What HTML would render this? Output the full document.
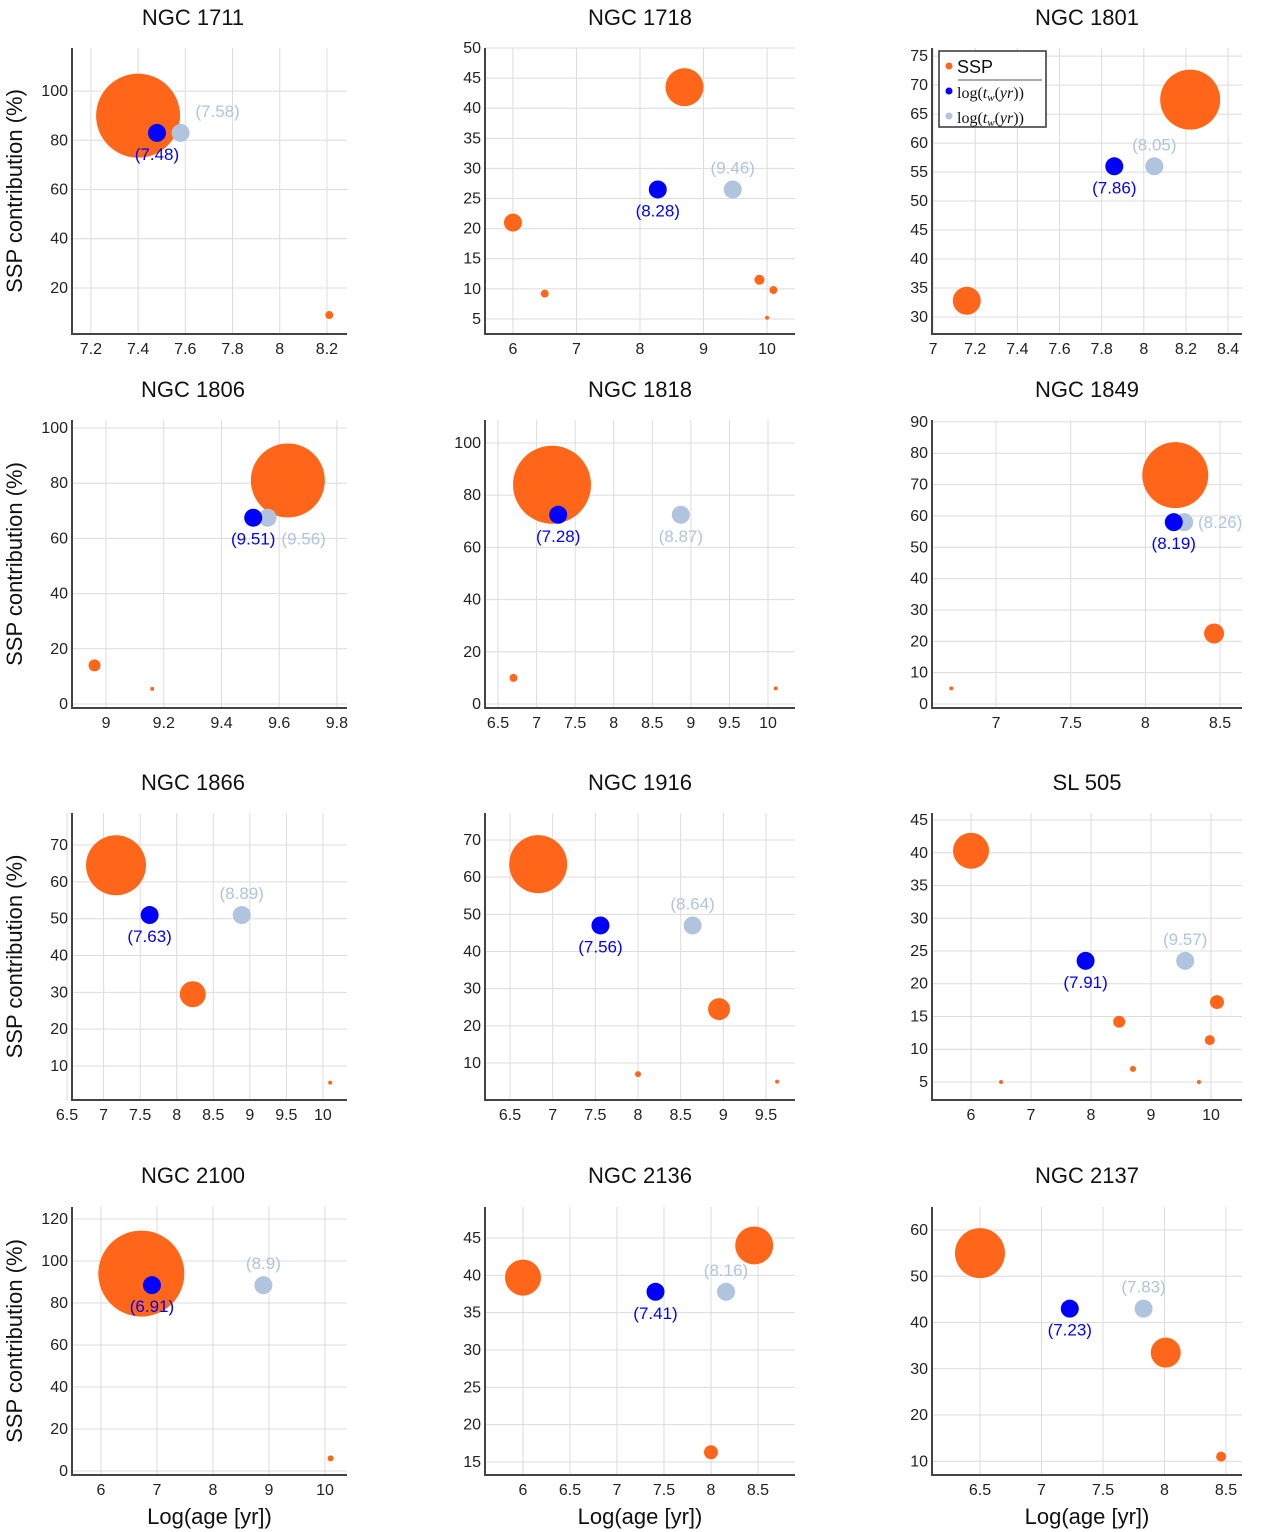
<!DOCTYPE html>
<html><head><meta charset="utf-8">
<style>
html,body{margin:0;padding:0;background:#fff;}
svg{display:block;font-family:"Liberation Sans",sans-serif;}
</style></head>
<body>
<svg id="chart" width="1280" height="1532" viewBox="0 0 1280 1532" xmlns="http://www.w3.org/2000/svg"></svg>
<script>
const titles = ["NGC 1711","NGC 1718","NGC 1801","NGC 1806","NGC 1818","NGC 1849","NGC 1866","NGC 1916","SL 505","NGC 2100","NGC 2136","NGC 2137"];
const xDomains = [[7.12,8.285],[5.56,10.44],[6.995,8.466],[8.882,9.835],[6.331,10.35],[6.571,8.647],[6.568,10.33],[6.207,9.84],[5.35,10.517],[5.482,10.393],[5.596,8.894],[6.11,8.63]];
const yDomains = [[1.3,117.5],[2.5,50],[27.07,76.4],[-1.45,102.9],[-1.53,108.8],[-1.28,90.6],[0.77,78.7],[0.05,77.26],[2.25,46.07],[-1.9,125.7],[13.26,49.15],[7.03,64.98]];
const xTicks = [[7.2,7.4,7.6,7.8,8,8.2],[6,7,8,9,10],[7,7.2,7.4,7.6,7.8,8,8.2,8.4],[9,9.2,9.4,9.6,9.8],[6.5,7,7.5,8,8.5,9,9.5,10],[7,7.5,8,8.5],[6.5,7,7.5,8,8.5,9,9.5,10],[6.5,7,7.5,8,8.5,9,9.5],[6,7,8,9,10],[6,7,8,9,10],[6,6.5,7,7.5,8,8.5],[6.5,7,7.5,8,8.5]];
const yTicks = [[20,40,60,80,100],[5,10,15,20,25,30,35,40,45,50],[30,35,40,45,50,55,60,65,70,75],[0,20,40,60,80,100],[0,20,40,60,80,100],[0,10,20,30,40,50,60,70,80,90],[10,20,30,40,50,60,70],[10,20,30,40,50,60,70],[5,10,15,20,25,30,35,40,45],[0,20,40,60,80,100,120],[15,20,25,30,35,40,45],[10,20,30,40,50,60]];
const sspX = [[7.40,8.21],[8.7,6.0,6.5,9.88,10.1,10.0],[8.22,7.16],[9.63,8.96,9.16],[7.2,6.7,10.1],[8.2,8.46,6.7],[7.17,8.22,10.1],[6.83,8.95,8.0,9.63],[6.0,8.47,10.1,9.98,8.7,6.5,9.8],[6.72,10.1],[8.46,6.0,8.0],[6.5,8.01,8.46]];
const sspY = [[90,9],[43.5,21,9.2,11.5,9.8,5.2],[67.5,32.8],[81,14,5.5],[84,10,6],[73,22.5,5],[64.5,29.5,5.5],[63.5,24.5,7,5],[40.3,14.2,17.2,11.4,7,5,5],[94,6],[44,39.7,16.3],[55,33.5,11]];
const sspSize = [[42,4],[19,9,4,5,4,2],[30,14],[37,6,2],[39,4,2],[33,10,2],[30,13,2],[29,11,3,2],[18,6,7,5,3,2,2],[43,3],[19,18,7],[25,15,5]];
const blueX = [7.48,8.28,7.86,9.51,7.28,8.19,7.63,7.56,7.91,6.91,7.41,7.23];
const blueY = [83,26.5,56,67.5,72.5,58,51,47,23.5,88.5,37.8,43];
const lbX = [7.58,9.46,8.05,9.56,8.87,8.26,8.89,8.64,9.57,8.9,8.16,7.83];
const lbY = [83,26.5,56,67.5,72.5,58,51,47,23.5,88.5,37.8,43];
const lbLabelDx = [37,0,0,36,0,36,0,0,0,0,0,0];
const lbLabelDy = [-22,-22,-22,21,21,0,-22,-22,-22,-22,-22,-22];

const colL=[72,485,932], colR=[347,795,1242];
const rowT=[48,420,813,1207], rowB=[334,708,1100,1475];
const titleY=[17,389,782,1175];
const titleX=[193,640,1087];
const NS="http://www.w3.org/2000/svg";
const svg=document.getElementById('chart');
function mk(tag,attrs,parent){const e=document.createElementNS(NS,tag);for(const k in attrs)e.setAttribute(k,attrs[k]);(parent||svg).appendChild(e);return e;}

titles.forEach((t,i)=>{
  const c=i%3,r=Math.floor(i/3);
  const L=colL[c],R=colR[c],T=rowT[r],B=rowB[r];
  const [x0,x1]=xDomains[i],[y0,y1]=yDomains[i];
  const sx=v=>L+(v-x0)/(x1-x0)*(R-L);
  const sy=v=>B-(v-y0)/(y1-y0)*(B-T);
  const g=mk('g',{});
  
  
  const tt=mk('text',{x:titleX[c],y:titleY[r]+8,'text-anchor':'middle','font-size':22,fill:'#111'},g);
  tt.textContent=t;
  
  
  xTicks[i].forEach(v=>{
    const x=sx(v);
    const gl=mk('line',{x1:x,x2:x,y1:T,y2:B,stroke:'#dcdcdc','stroke-width':1},g);
    
    
    const tl=mk('text',{x:x,y:B+20,'text-anchor':'middle','font-size':16,fill:'#222'},g);
    tl.textContent=String(v);
    
    
  });
  yTicks[i].forEach(v=>{
    const y=sy(v);
    const gl=mk('line',{x1:L,x2:R,y1:y,y2:y,stroke:'#dcdcdc','stroke-width':1},g);
    
    
    const tl=mk('text',{x:L-4,y:y+5,'text-anchor':'end','font-size':16,fill:'#222'},g);
    tl.textContent=String(v);
    
    
  });
  const ax=mk('path',{d:`M${L},${T} V${B} H${R}`,fill:'none',stroke:'#444','stroke-width':2},g);
  
  
  sspX[i].forEach((v,j)=>{
    const p=mk('circle',{cx:sx(v),cy:sy(sspY[i][j]),r:sspSize[i][j],fill:'#ff6619'},g);
    
    
  });
  const bx=sx(blueX[i]),by=sy(blueY[i]),lx=sx(lbX[i]),ly=sy(lbY[i]);
  const lp=mk('circle',{cx:lx,cy:ly,r:9,fill:'#b0c4de'},g);
  
  
  const bp=mk('circle',{cx:bx,cy:by,r:9,fill:'#0000ff'},g);
  
  
  const bl=mk('text',{x:bx,y:by+21+6,'text-anchor':'middle','font-size':17,fill:'#0000ff'},g);
  bl.textContent='('+blueX[i]+')';
  
  
  const ll=mk('text',{x:lx+lbLabelDx[i],y:ly+lbLabelDy[i]+6,'text-anchor':'middle','font-size':17,fill:'#b0c4de'},g);
  ll.textContent='('+lbX[i]+')';
  
  
  if(c==0){
    const yl=mk('text',{x:0,y:0,'text-anchor':'middle','font-size':22,fill:'#111',transform:`translate(22,${(T+B)/2}) rotate(-90)`},g);
    yl.textContent='SSP contribution (%)';
    
    
  }
  if(r==3){
    const xl=mk('text',{x:(L+R)/2,y:1524,'text-anchor':'middle','font-size':22,fill:'#111'},g);
    xl.textContent='Log(age [yr])';
    
    
  }
});

// legend in NGC 1801 panel
const lg=mk('g',{});


mk('rect',{x:939,y:51,width:107,height:76,fill:'#fff',stroke:'#333','stroke-width':1.5},lg);
const legItems=[['SSP','#ff6619',66,false],['log(t_w(yr))','#0000ff',91,true],['log(t_w(yr))','#b0c4de',116,true]];
legItems.forEach(it=>{
  const d=mk('circle',{cx:949,cy:it[2],r:3.5,fill:it[1]},lg);
  
  
  const tx=mk('text',{x:957,y:it[2]+7,'font-size':it[3]?16:18,fill:'#111','font-family':it[3]?'"Liberation Serif",serif':'"Liberation Sans",sans-serif'},lg);
  if(it[3]){
    tx.innerHTML='log(<tspan font-style="italic">t</tspan><tspan font-style="italic" font-size="11" dy="3">w</tspan><tspan dy="-3">(</tspan><tspan font-style="italic">yr</tspan>))';
  } else tx.textContent=it[0];
  
  
});
mk('line',{x1:958,x2:1042,y1:80,y2:80,stroke:'#555','stroke-width':1},lg);
</script>
</body></html>
